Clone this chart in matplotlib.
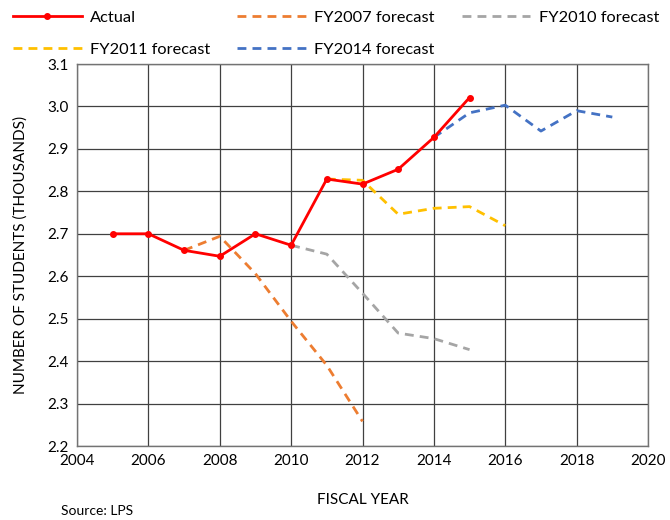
import matplotlib
matplotlib.use("Agg")
import matplotlib.pyplot as plt

plt.rcParams["font.family"] = ["Lato", "DejaVu Sans"]

actual_years = [2005, 2006, 2007, 2008, 2009, 2010, 2011, 2012, 2013, 2014, 2015]
actual_vals = [2.70, 2.70, 2.661, 2.647, 2.70, 2.673, 2.829, 2.817, 2.852, 2.927, 3.021]

fy2007_years = [2007, 2008, 2009, 2010, 2011, 2012]
fy2007_vals = [2.661, 2.694, 2.606, 2.494, 2.39, 2.258]

fy2010_years = [2010, 2011, 2012, 2013, 2014, 2015]
fy2010_vals = [2.673, 2.652, 2.56, 2.466, 2.453, 2.427]

fy2011_years = [2011, 2012, 2013, 2014, 2015, 2016]
fy2011_vals = [2.829, 2.826, 2.746, 2.76, 2.764, 2.719]

fy2014_years = [2014, 2015, 2016, 2017, 2018, 2019]
fy2014_vals = [2.927, 2.985, 3.003, 2.942, 2.99, 2.975]

fig = plt.figure(figsize=(6.7, 5.2), dpi=100)
ax = fig.add_axes([77 / 670, 1 - 446 / 520, (648 - 77) / 670, (446 - 64) / 520])

dash = (3.2, 2.2)
h_act, = ax.plot(actual_years, actual_vals, color="#ff0000", lw=2.0, marker="o", ms=4,
                 label="Actual", zorder=5)
h07, = ax.plot(fy2007_years, fy2007_vals, color="#ed7d31", lw=2.0, dashes=dash,
               label="FY2007 forecast")
h10, = ax.plot(fy2010_years, fy2010_vals, color="#a5a5a5", lw=2.0, dashes=dash,
               label="FY2010 forecast")
h11, = ax.plot(fy2011_years, fy2011_vals, color="#ffc000", lw=2.0, dashes=dash,
               label="FY2011 forecast")
h14, = ax.plot(fy2014_years, fy2014_vals, color="#4472c4", lw=2.0, dashes=dash,
               label="FY2014 forecast")

ax.set_xlim(2004, 2020)
ax.set_ylim(2.2, 3.1)
ax.set_xticks(range(2004, 2021, 2))
ax.set_yticks([2.2 + 0.1 * i for i in range(10)])
ax.set_yticklabels([f"{2.2 + 0.1 * i:.1f}" for i in range(10)])
ax.tick_params(length=0, labelsize=11, pad=6)
ax.grid(True, color="0.25", lw=0.9)
ax.set_axisbelow(True)
for s in ax.spines.values():
    s.set_color("0.45")
    s.set_linewidth(1.0)

ax.set_xlabel("FISCAL YEAR", fontsize=11, labelpad=18)
ax.set_ylabel("NUMBER OF STUDENTS (THOUSANDS)", fontsize=11, labelpad=14)

# legend is filled column-wise, so order handles to read row-wise
handles = [h_act, h11, h07, h14, h10]
fig.legend(handles=handles, labels=[h.get_label() for h in handles],
           loc="upper left", bbox_to_anchor=(-0.003, 1.008), ncol=3, frameon=False,
           fontsize=11.8, handlelength=4.2, columnspacing=1.65, handletextpad=0.5,
           labelspacing=1.05)

fig.text(61 / 670, 1 - 511 / 520, "Source: LPS", fontsize=10, va="center")

fig.savefig("out.png", dpi=100)
